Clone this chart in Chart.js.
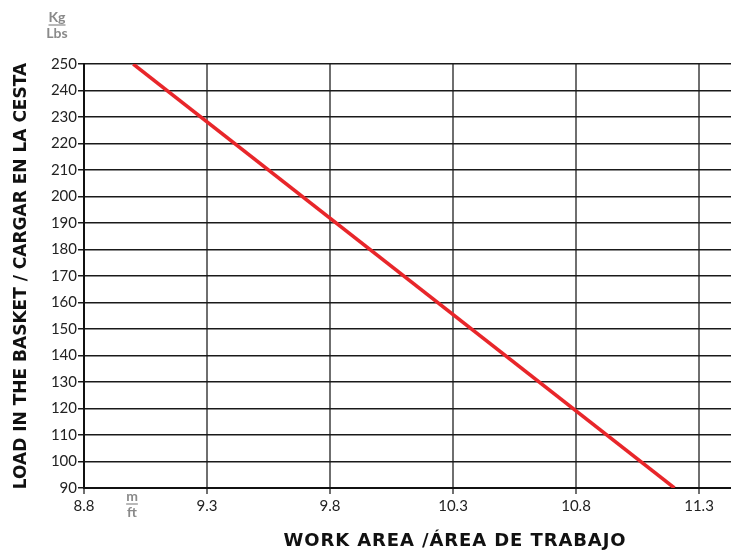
<!DOCTYPE html>
<html>
<head>
<meta charset="utf-8">
<script src="https://cdn.jsdelivr.net/npm/chart.js@4/dist/chart.umd.min.js"></script>
<style>
  html, body { margin: 0; padding: 0; background: #fff; }
  #wrap { width: 731px; height: 555px; position: relative; }
</style>
</head>
<body>
<div id="wrap"><canvas id="loadChart"></canvas></div>
<script>
// Data
const workArea = [9.0, 11.2];          // m
const basketLoad = [250, 90];          // kg
const xTickValues = [8.8, 9.3, 9.8, 10.3, 10.8, 11.3];
const yMin = 90, yMax = 250, yStep = 10;

const xTitle = 'WORK AREA /ÁREA DE TRABAJO';
const yTitle = 'LOAD IN THE BASKET / CARGAR EN LA CESTA';

const FONT = 'Lato, "Open Sans", sans-serif';
const TITLE_FONT = '"DejaVu Sans", sans-serif';

// titles + unit labels
const extraText = {
    id: 'extraText',
    afterDraw(chart) {
        const { ctx, chartArea } = chart;
        ctx.save();

        // axis titles
        ctx.fillStyle = '#111';
        ctx.textAlign = 'center';
        ctx.textBaseline = 'middle';
        ctx.font = `bold 18px ${TITLE_FONT}`;
        ctx.letterSpacing = '0.9px';
        ctx.fillText(xTitle, 455, 541);

        ctx.save();
        ctx.translate(22, (chartArea.top + chartArea.bottom) / 2);
        ctx.rotate(-Math.PI / 2);
        ctx.font = `bold 17px ${TITLE_FONT}`;
        ctx.letterSpacing = '0px';
        ctx.fillText(yTitle, 0, 0);
        ctx.restore();
        ctx.letterSpacing = '0px';

        // unit labels (underlined top unit)
        const unit = (top, bottom, x, y) => {
            ctx.fillStyle = '#8a8a8a';
            ctx.strokeStyle = '#8a8a8a';
            ctx.font = `bold 14px ${FONT}`;
            ctx.fillText(top, x, y);
            const w = ctx.measureText(top).width;
            ctx.lineWidth = 1.2;
            ctx.beginPath();
            ctx.moveTo(x - w / 2, y + 8);
            ctx.lineTo(x + w / 2, y + 8);
            ctx.stroke();
            ctx.fillText(bottom, x, y + 16);
        };
        unit('Kg', 'Lbs', chartArea.left - 27, 17);
        unit('m', 'ft', chartArea.left + 48, 496);

        ctx.restore();
    }
};

new Chart(document.getElementById('loadChart'), {
    type: 'scatter',
    data: {
        datasets: [{
            data: workArea.map((x, i) => ({ x, y: basketLoad[i] })),
            showLine: true,
            borderColor: '#e8262a',
            borderWidth: 3.5,
            pointRadius: 0,
            pointHoverRadius: 0
        }]
    },
    options: {
        responsive: true,
        maintainAspectRatio: false,
        animation: false,
        events: [],
        layout: { padding: { top: 64, left: 0, right: 0, bottom: 0 } },
        plugins: { legend: { display: false }, tooltip: { enabled: false } },
        scales: {
            x: {
                type: 'linear',
                min: 8.8,
                max: 11.43,
                afterBuildTicks: (scale) => {
                    scale.ticks = xTickValues.map(v => ({ value: v }));
                },
                afterFit: (scale) => { scale.height = 67; },
                grid: {
                    color: '#6f6f6f',
                    lineWidth: 2,
                    tickLength: 6,
                    drawTicks: true
                },
                border: { color: '#111', width: 2 },
                ticks: {
                    color: '#222',
                    font: { family: FONT, size: 15 },
                    padding: 3,
                    maxRotation: 0,
                    callback: (v) => v.toFixed(1)
                }
            },
            y: {
                min: yMin,
                max: yMax,
                afterFit: (scale) => { scale.width = 84; },
                grid: {
                    color: '#1a1a1a',
                    lineWidth: 1.5,
                    tickLength: 6
                },
                border: { color: '#111', width: 2 },
                ticks: {
                    stepSize: yStep,
                    color: '#222',
                    font: { family: FONT, size: 15 },
                    padding: 1
                }
            }
        }
    },
    plugins: [extraText]
});
</script>
</body>
</html>
